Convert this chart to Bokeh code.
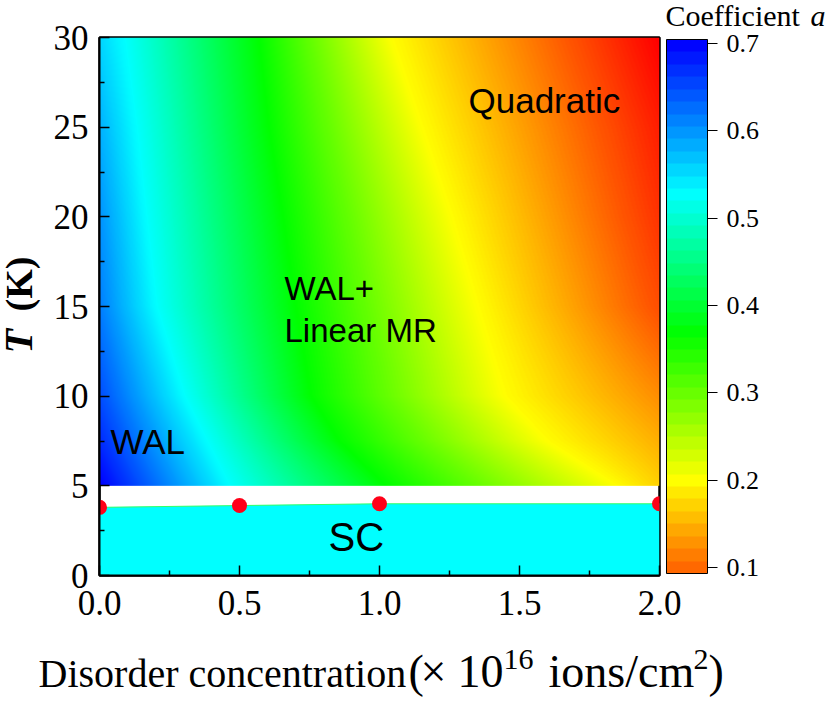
import numpy as np
from bokeh.embed import file_html
from bokeh.models import ColorBar, FixedTicker, Label, LinearColorMapper, NumeralTickFormatter, Range1d
from bokeh.plotting import figure
from bokeh.resources import INLINE

# Colour scale: coefficient a -> (R, G, B)
scale_levels = [0.032, 0.20, 0.368, 0.528, 0.70]
scale_colors = [(255, 0, 0), (255, 255, 0), (0, 255, 0), (0, 255, 255), (0, 0, 255)]

# Field: for each temperature, a at both edges and the
# disorder concentration where a reaches the yellow, green and cyan levels
temperature_rows = [5, 7.5, 10, 15, 20, 25, 30]
a_at_left_edge = [0.70, 0.67, 0.647, 0.614, 0.60, 0.58, 0.555]
x_at_cyan = [0.46, 0.38, 0.30, 0.20, 0.164, 0.129, 0.086]
x_at_green = [1.02, 0.854, 0.754, 0.70, 0.654, 0.604, 0.568]
x_at_yellow = [1.85, 1.60, 1.45, 1.354, 1.261, 1.154, 1.046]
a_at_right_edge = [0.17, 0.148, 0.126, 0.084, 0.066, 0.052, 0.032]

# Superconducting boundary
disorder = [0.0, 0.5, 1.0, 2.0]
tc = [3.8, 3.9, 4.0, 4.0]

x_ticks = [0.0, 0.5, 1.0, 1.5, 2.0]
x_minor = [0.25, 0.75, 1.25, 1.75]
y_ticks = [0, 5, 10, 15, 20, 25, 30]
y_minor = [2.5, 7.5, 12.5, 17.5, 22.5, 27.5]
bar_ticks = [0.1, 0.2, 0.3, 0.4, 0.5, 0.6, 0.7]


def colour(a):
    r = np.interp(a, scale_levels, [c[0] for c in scale_colors])
    g = np.interp(a, scale_levels, [c[1] for c in scale_colors])
    b = np.interp(a, scale_levels, [c[2] for c in scale_colors])
    return "#%02x%02x%02x" % (int(round(r)), int(round(g)), int(round(b)))


# Render the read field on the raster used for the picture
nx, ny = 560, 448
xs = np.linspace(0, 2, nx)
ts = np.linspace(5, 30, ny)
field = np.zeros((ny, nx), dtype=np.float32)
for j, t in enumerate(ts):
    knots_x = [0.0] + [float(np.interp(t, temperature_rows, v)) for v in (x_at_cyan, x_at_green, x_at_yellow)] + [2.0]
    knots_a = [float(np.interp(t, temperature_rows, a_at_left_edge)), 0.528, 0.368, 0.20,
               float(np.interp(t, temperature_rows, a_at_right_edge))]
    field[j] = np.interp(xs, knots_x, knots_a)

main_palette = [colour(a) for a in np.linspace(scale_levels[0], scale_levels[-1], 256)]
main_mapper = LinearColorMapper(palette=main_palette, low=scale_levels[0], high=scale_levels[-1])

bar_low, bar_high, bar_steps = 0.0931, 0.7046, 43
bar_step = (bar_high - bar_low) / bar_steps
bar_palette = [colour(bar_low + (i + 0.5) * bar_step) for i in range(bar_steps)]
bar_mapper = LinearColorMapper(palette=bar_palette, low=bar_low, high=bar_high)

p = figure(width=830, height=702, frame_width=560, frame_height=538,
           min_border_left=99, min_border_right=171, min_border_top=37, min_border_bottom=127,
           x_range=Range1d(0, 2), y_range=Range1d(0, 30),
           output_backend="svg", toolbar_location=None, background_fill_color="white")
p.grid.visible = False
p.outline_line_color = "black"
p.outline_line_width = 2.5

p.image(image=[field], x=0, y=5, dw=2, dh=25, color_mapper=main_mapper)
p.varea(x=disorder, y1=[0] * len(disorder), y2=tc, fill_color="#00ffff")
p.line(disorder, tc, line_color="#33ff66", line_width=1)
p.scatter(disorder, tc, size=15, marker="circle", fill_color="#ff0018", line_color=None)

for ax, major, minor in ((p.xaxis[0], x_ticks, x_minor), (p.yaxis[0], y_ticks, y_minor)):
    ax.ticker = FixedTicker(ticks=major, minor_ticks=minor)
    ax.axis_line_color = "black"
    ax.axis_line_width = 2
    ax.major_tick_in = 10
    ax.major_tick_out = 0
    ax.minor_tick_in = 5
    ax.minor_tick_out = 0
    ax.major_tick_line_color = "black"
    ax.minor_tick_line_color = "black"
    ax.major_tick_line_width = 1.5
    ax.minor_tick_line_width = 1.5
    ax.major_label_text_font = "Liberation Serif"
    ax.major_label_text_font_size = "35px"
    ax.major_label_text_color = "black"
p.xaxis[0].formatter = NumeralTickFormatter(format="0.0")
p.xaxis[0].major_label_standoff = 15
p.yaxis[0].major_label_standoff = 11

bar = ColorBar(color_mapper=bar_mapper, ticker=FixedTicker(ticks=bar_ticks),
               formatter=NumeralTickFormatter(format="0.0"),
               location=(567, 2), width=41, height=534, padding=0, margin=0,
               major_tick_in=0, major_tick_out=10, minor_tick_in=0, minor_tick_out=0,
               major_tick_line_color="black", major_tick_line_width=1,
               bar_line_color="black", bar_line_width=1,
               major_label_text_font="Liberation Serif", major_label_text_font_size="26px",
               major_label_text_color="black", label_standoff=9,
               background_fill_alpha=0, border_line_color=None)
p.add_layout(bar, "center")


def add_text(text, px, py, font="Liberation Sans", size=35, style="normal", angle=0, side="center"):
    if angle == 0:
        py = py - 0.37 * size
    else:
        px = px - 0.37 * size
    p.add_layout(Label(x=px, y=py, x_units="canvas", y_units="canvas", text=text, text_font=font,
                       text_font_size=f"{size}px", text_font_style=style, text_color="black",
                       text_baseline="alphabetic", angle=angle), side)


add_text("Quadratic", 468, 113)
add_text("WAL+", 284, 300, size=33)
add_text("Linear MR", 284, 342, size=33)
add_text("WAL", 110, 454, size=35)
add_text("SC", 328, 551, size=40)

serif = "Liberation Serif"
add_text("Disorder concentration", 38, 688, serif, 40, side="below")
add_text("(", 408, 688, serif, 46, side="below")
add_text("×", 420, 688, serif, 46, side="below")
add_text("10", 457, 688, serif, 46, side="below")
add_text("16", 503, 670, serif, 30, side="below")
add_text("ions/cm", 548, 688, serif, 46, side="below")
add_text("2", 693, 670, serif, 30, side="below")
add_text(")", 708, 688, serif, 46, side="below")

add_text("T", 33, 353, serif, 40, "bold italic", np.pi / 2, side="right")
add_text("(K)", 33, 311, serif, 38, "bold", np.pi / 2, side="right")

add_text("Coefficient", 665, 26, serif, 30, side="above")
add_text("a", 810, 26, serif, 30, "italic", side="right")

open("out.html", "w").write(file_html(p, INLINE))
